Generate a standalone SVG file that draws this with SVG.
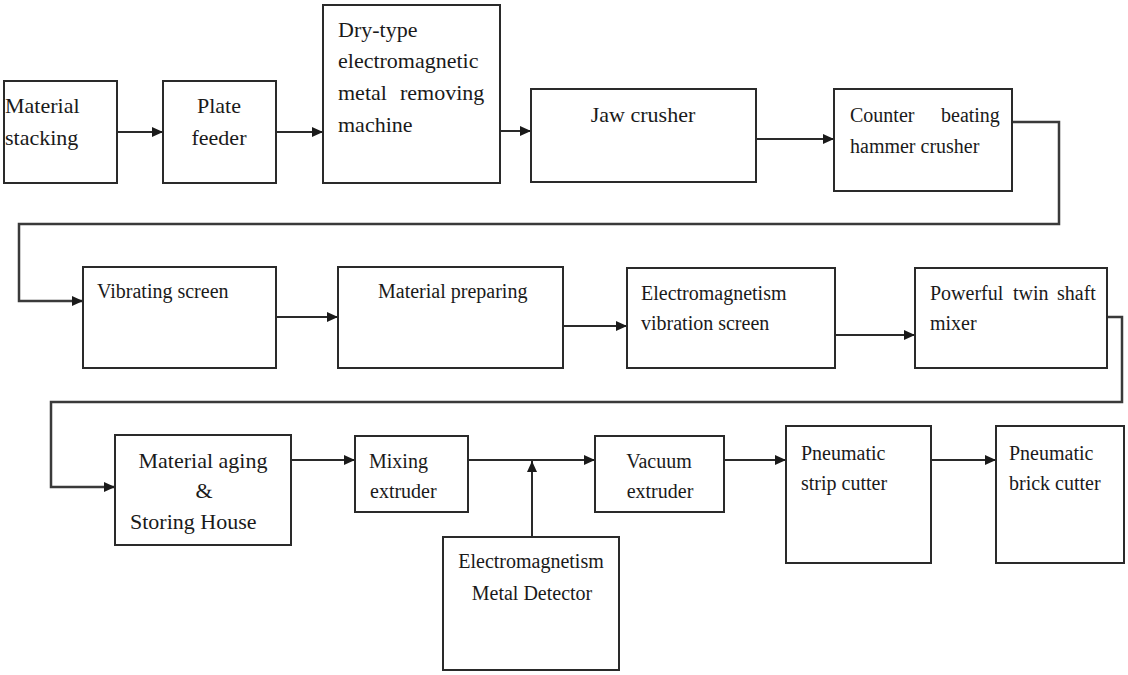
<svg xmlns="http://www.w3.org/2000/svg" width="1128" height="675" viewBox="0 0 1128 675">
<style>
.box{fill:#fff;stroke:#2a2a2a;stroke-width:2}
.ln{fill:none;stroke:#2a2a2a;stroke-width:2}
.lnw{fill:none;stroke:#3a3a3a;stroke-width:2.5}
text{font-family:"Liberation Serif","Times New Roman",serif;fill:#1a1a1a}
.f22{font-size:22px}
.f20{font-size:20px}
.mid{text-anchor:middle}
</style>
<defs>
<marker id="ah" markerUnits="userSpaceOnUse" markerWidth="11" markerHeight="10" refX="11" refY="5" orient="auto">
<path d="M0,0 L11,5 L0,10 z" fill="#1a1a1a"/>
</marker>
</defs>
<rect width="1128" height="675" fill="#fff"/>
<g id="connectors">
<path class="ln" d="M117,132 H163" marker-end="url(#ah)"/>
<path class="ln" d="M276,132 H323" marker-end="url(#ah)"/>
<path class="ln" d="M500,131 H531" marker-end="url(#ah)"/>
<path class="ln" d="M756,139 H834" marker-end="url(#ah)"/>
<path class="lnw" d="M1012,122 H1059 V224 H19 V301 H83" marker-end="url(#ah)"/>
<path class="ln" d="M276,317 H338" marker-end="url(#ah)"/>
<path class="ln" d="M563,326 H627" marker-end="url(#ah)"/>
<path class="ln" d="M835,335 H915" marker-end="url(#ah)"/>
<path class="lnw" d="M1107,317 H1122 V402 H51 V487 H115" marker-end="url(#ah)"/>
<path class="ln" d="M291,460 H355" marker-end="url(#ah)"/>
<path class="ln" d="M468,460 H595" marker-end="url(#ah)"/>
<path class="ln" d="M532,537 V461" marker-end="url(#ah)"/>
<path class="ln" d="M724,460 H786" marker-end="url(#ah)"/>
<path class="ln" d="M931,460 H996" marker-end="url(#ah)"/>
</g>
<g id="material-stacking">
<rect class="box" x="4" y="81" width="113" height="102"/>
<text class="f22" x="5" y="113">Material</text>
<text class="f22" x="5" y="145">stacking</text>
</g>
<g id="plate-feeder">
<rect class="box" x="163" y="81" width="113" height="102"/>
<text class="f22 mid" x="219" y="113">Plate</text>
<text class="f22 mid" x="219" y="145">feeder</text>
</g>
<g id="dry-type">
<rect class="box" x="323" y="5" width="177" height="178"/>
<text class="f22" x="338" y="37">Dry-type</text>
<text class="f22" x="338" y="68">electromagnetic</text>
<text class="f22" y="100"><tspan x="338">metal</tspan><tspan x="400">removing</tspan></text>
<text class="f22" x="338" y="132">machine</text>
</g>
<g id="jaw-crusher">
<rect class="box" x="531" y="89" width="225" height="93"/>
<text class="f22 mid" x="643" y="122">Jaw crusher</text>
</g>
<g id="counter-beating">
<rect class="box" x="834" y="89" width="178" height="102"/>
<text class="f20" y="122"><tspan x="850">Counter</tspan><tspan x="941">beating</tspan></text>
<text class="f20" x="850" y="153">hammer crusher</text>
</g>
<g id="vibrating-screen">
<rect class="box" x="83" y="267" width="193" height="101"/>
<text class="f20" x="97" y="298">Vibrating screen</text>
</g>
<g id="material-preparing">
<rect class="box" x="338" y="267" width="225" height="101"/>
<text class="f20" x="378" y="298">Material preparing</text>
</g>
<g id="em-vibration-screen">
<rect class="box" x="627" y="268" width="208" height="100"/>
<text class="f20" x="641" y="300">Electromagnetism</text>
<text class="f20" x="641" y="330">vibration screen</text>
</g>
<g id="twin-shaft-mixer">
<rect class="box" x="915" y="268" width="192" height="100"/>
<text class="f20" y="300"><tspan x="930">Powerful</tspan><tspan x="1013">twin</tspan><tspan x="1057">shaft</tspan></text>
<text class="f20" x="930" y="330">mixer</text>
</g>
<g id="material-aging">
<rect class="box" x="115" y="435" width="176" height="110"/>
<text class="f22 mid" x="203" y="468">Material aging</text>
<text class="f22 mid" x="204" y="498">&amp;</text>
<text class="f22" x="130" y="529">Storing House</text>
</g>
<g id="mixing-extruder">
<rect class="box" x="355" y="436" width="113" height="76"/>
<text class="f20" x="369" y="468">Mixing</text>
<text class="f20" x="370" y="498">extruder</text>
</g>
<g id="metal-detector">
<rect class="box" x="443" y="537" width="176" height="133"/>
<text class="f20 mid" x="531" y="568">Electromagnetism</text>
<text class="f20 mid" x="532" y="600">Metal Detector</text>
</g>
<g id="vacuum-extruder">
<rect class="box" x="595" y="436" width="129" height="76"/>
<text class="f20 mid" x="659" y="468">Vacuum</text>
<text class="f20 mid" x="660" y="498">extruder</text>
</g>
<g id="strip-cutter">
<rect class="box" x="786" y="426" width="145" height="137"/>
<text class="f20" x="801" y="460">Pneumatic</text>
<text class="f20" x="801" y="490">strip cutter</text>
</g>
<g id="brick-cutter">
<rect class="box" x="996" y="426" width="128" height="137"/>
<text class="f20" x="1009" y="460">Pneumatic</text>
<text class="f20" x="1009" y="490">brick cutter</text>
</g>
</svg>
